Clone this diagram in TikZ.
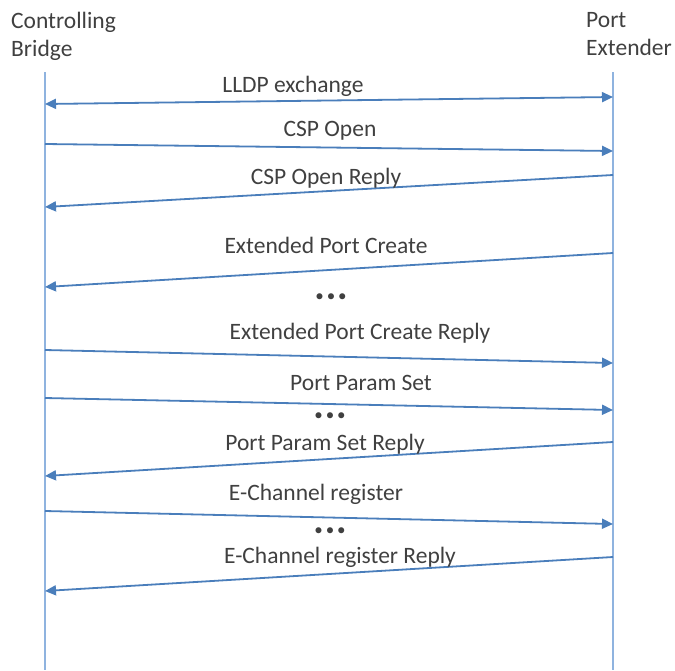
\documentclass[tikz,border=0pt]{standalone}
\usepackage{fontspec}
\setmainfont{Carlito}
\usetikzlibrary{arrows.meta}
\definecolor{life}{HTML}{8FB3DF}
\definecolor{msg}{HTML}{4A7EBB}
\definecolor{txt}{HTML}{404040}
\tikzset{
  lifeline/.style={draw=life, line width=2pt},
  message/.style={draw=msg, line width=1.8pt, -{Triangle[length=11pt,width=10pt]}},
  both/.style={draw=msg, line width=1.8pt, {Triangle[length=11pt,width=10pt]}-{Triangle[length=11pt,width=10pt]}},
  lbl/.style={text=txt, font=\fontsize{23.5}{26}\selectfont, inner sep=0pt},
  dots/.style={text=txt, font=\fontsize{17}{20}\selectfont, inner sep=0pt},
  hdr/.style={text=txt, font=\fontsize{23.5}{28}\selectfont, inner sep=0pt, align=left, anchor=north west},
}
\begin{document}
\begin{tikzpicture}[x=1pt,y=-1pt]
\useasboundingbox (0,0) rectangle (675,670);
% headers
\node[hdr] (cb) at (11,12) {Controlling\\Bridge};
\node[hdr] (pe) at (586,12) {Port\\Extender};
% lifelines
\coordinate (Ltop) at (45,72); \coordinate (Lbot) at (45,670);
\coordinate (Rtop) at (613,72); \coordinate (Rbot) at (613,670);
\draw[lifeline] (Ltop) -- (Lbot);
\draw[lifeline] (Rtop) -- (Rbot);
% message endpoints
\coordinate (a1) at (45,104); \coordinate (b1) at (613,97);
\coordinate (a2) at (45,144); \coordinate (b2) at (613,151);
\coordinate (a3) at (45,207); \coordinate (b3) at (613,175);
\coordinate (a4) at (45,287); \coordinate (b4) at (613,253);
\coordinate (a5) at (45,350); \coordinate (b5) at (613,363);
\coordinate (a6) at (45,398); \coordinate (b6) at (613,410);
\coordinate (a7) at (45,476); \coordinate (b7) at (613,442);
\coordinate (a8) at (45,511); \coordinate (b8) at (613,524);
\coordinate (a9) at (45,591); \coordinate (b9) at (613,557);
% messages
\draw[both] (a1) -- (b1);
\draw[message] (a2) -- (b2);
\draw[message] (b3) -- (a3);
\draw[message] (b4) -- (a4);
\draw[message] (a5) -- (b5);
\draw[message] (a6) -- (b6);
\draw[message] (b7) -- (a7);
\draw[message] (a8) -- (b8);
\draw[message] (b9) -- (a9);
% labels
\node[lbl] (t1) at (293,86) {LLDP exchange};
\node[lbl] (t2) at (330,131) {CSP Open};
\node[lbl] (t3) at (326,178) {CSP Open Reply};
\node[lbl] (t4) at (326,245) {Extended Port Create};
\node[dots] (d1) at (331,298) {\textbullet\,\textbullet\,\textbullet};
\node[lbl] (t5) at (360,333) {Extended Port Create Reply};
\node[lbl] (t6) at (361,383) {Port Param Set};
\node[dots] (d2) at (330,417) {\textbullet\,\textbullet\,\textbullet};
\node[lbl] (t7) at (325,444) {Port Param Set Reply};
\node[lbl] (t8) at (316,494) {E-Channel register};
\node[dots] (d3) at (330,532) {\textbullet\,\textbullet\,\textbullet};
\node[lbl] (t9) at (340,557) {E-Channel register Reply};
\end{tikzpicture}
\end{document}
